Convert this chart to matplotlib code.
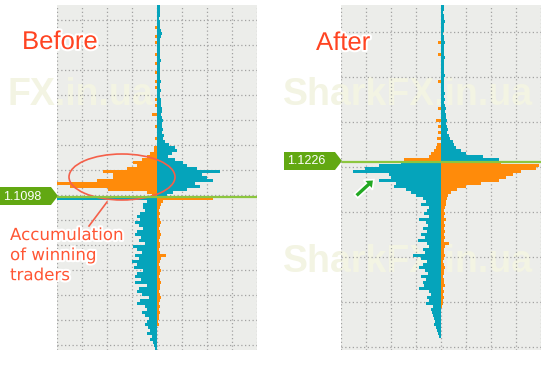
import numpy as np
import matplotlib
matplotlib.use('Agg')
import matplotlib.pyplot as plt
from matplotlib.patches import Ellipse, Polygon, FancyArrow
import matplotlib.patheffects as pe

# bar lengths (px) per 3px price row
# "Before" panel: rows above the price line (top -> line), rows below (line -> bottom)
before_up_orange = [0, 0, 0, 0, 0, 0, 0, 2, 0, 0, 2, 0, 2, 0, 0, 0, 2, 0, 0, 2,
                    0, 0, 2, 0, 0, 2, 0, 2, 0, 0, 0, 2, 0, 2, 0, 0, 5, 0, 0, 0,
                    2, 0, 0, 0, 2, 0, 0, 3, 3, 7, 10, 15, 24, 20, 30, 54, 44, 44, 60, 100,
                    87, 49, 10, 5]
before_up_teal = [3, 3, 3, 3, 2, 3, 3, 3, 4, 5, 4, 3, 3, 3, 3,
                  3, 3, 3, 4, 3, 3, 3, 3, 3, 3, 4, 3, 3, 4, 3,
                  3, 4, 4, 4, 5, 5, 4, 5, 6, 5,
                  5, 6, 5, 7, 6, 8, 12, 18, 20, 15,
                  11, 18, 26, 30, 40, 63, 45, 50, 56, 38, 43, 30, 16, 10]
before_low_teal = [100, 10, 14, 14, 12, 17, 20, 17, 22, 18, 14, 20, 22, 16, 18, 12, 24,
                   20, 15, 22, 18, 25, 20, 23, 14, 20, 22, 16, 22, 10, 18, 20, 15, 8,
                   17, 20, 12, 10, 15, 12, 8, 10, 12, 9, 7, 10, 5, 7, 4, 3, 2]
before_low_orange = [56, 6, 4, 3, 2, 3, 2, 3, 4, 3, 2, 3, 4, 3, 2, 3, 3, 2, 3, 9, 4,
                     3, 2, 3, 4, 3, 2, 3, 4, 3, 3, 2, 3, 4, 3, 2, 3, 2, 3, 2, 2,
                     1, 2, 0, 0, 0, 0, 0, 0, 0, 0]

# "After" panel
after_up_orange = [0, 0, 0, 0, 0, 0, 0, 0, 0, 0, 0, 0, 3, 0, 0, 0, 3, 0, 0, 0,
                   0, 0, 0, 0, 0, 3, 0, 0, 0, 0, 0, 0, 0, 0, 3, 0, 0, 0, 5, 0,
                   3, 0, 3, 0, 4, 0, 4, 5, 7, 10, 12, 37]
after_up_teal = [3, 3, 2, 3, 3, 4, 3, 3, 3, 2, 3, 3, 4, 3, 3, 3, 3, 4, 3, 3,
                 3, 3, 3, 4, 3, 3, 3, 3, 3, 4, 3, 4, 3, 4, 5, 4, 5, 5, 6, 5,
                 6, 7, 6, 8, 9, 12, 13, 15, 20, 25, 42, 58]
after_low_teal = [40, 62, 76, 88, 52, 50, 62, 45, 47, 35, 30, 25, 18, 15, 20, 12, 14,
                  17, 12, 22, 15, 13, 18, 14, 20, 16, 23, 14, 12, 18, 16, 28, 20, 14,
                  18, 22, 16, 13, 20, 15, 18, 17, 22, 12, 10, 14, 12, 15, 8, 10, 9,
                  8, 7, 6, 7, 5, 4, 3, 2, 0, 0, 0, 0]
after_low_orange = [60, 98, 95, 80, 72, 65, 58, 40, 25, 16, 10, 7, 6, 5, 5, 4, 3, 4,
                    3, 5, 3, 4, 3, 4, 3, 4, 3, 8, 4, 3, 3, 4, 3, 2, 3, 4, 3, 3, 2,
                    3, 3, 4, 2, 3, 2, 3, 2, 2, 1, 0, 0, 0, 0, 0, 0, 0, 0, 0, 0, 0,
                    0, 0, 0]

price_before = "1.1098"
price_after = "1.1226"

ORANGE = '#ff8b0a'
TEAL = '#05a4bb'
BG = '#ecedea'
GRID = '#a2a2a2'
GREEN_LINE = '#8cc63f'
GREEN_TAG = '#62a812'
RED = '#ff4422'

W, H = 553, 370
fig = plt.figure(figsize=(5.53, 3.70), dpi=100)


def px_axes(x0, y0, x1, y1, **kw):
    return fig.add_axes([x0 / W, 1 - y1 / H, (x1 - x0) / W, (y1 - y0) / H], **kw)


ov = px_axes(0, 0, W, H, zorder=5)
ov.set_xlim(0, W)
ov.set_ylim(H, 0)
ov.axis('off')
ov.patch.set_alpha(0)


def panel(x0, x1, line_y, hgrid, up_or, up_te, lo_te, lo_or):
    ax = px_axes(x0, 5, x1, 350)
    ax.set_facecolor(BG)
    ax.set_xlim(-100, 100)
    ax.set_ylim(350, 5)
    ax.set_xticks(np.arange(-100, 101, 25))
    ax.set_yticks(hgrid)
    ax.grid(True, color=GRID, linestyle=(0, (1, 2)), linewidth=0.9)
    ax.set_axisbelow(True)
    ax.tick_params(length=0, labelbottom=False, labelleft=False)
    for s in ax.spines.values():
        s.set_visible(False)

    n = len(up_or)
    yu = line_y - 3 * (n - np.arange(n)) + 1.5
    ax.barh(yu, -np.array(up_or), height=3.05, color=ORANGE, linewidth=0, zorder=2)
    ax.barh(yu, up_te, height=3.05, color=TEAL, linewidth=0, zorder=2)
    m = len(lo_te)
    yl = line_y + 3 * np.arange(m) + 1.5
    ax.barh(yl, -np.array(lo_te), height=3.05, color=TEAL, linewidth=0, zorder=2)
    ax.barh(yl, lo_or, height=3.05, color=ORANGE, linewidth=0, zorder=2)
    return ax


axL = panel(57, 257, 197, np.arange(20, 350, 25),
            before_up_orange, before_up_teal, before_low_teal, before_low_orange)
axR = panel(341, 541, 161, np.arange(32, 350, 45),
            after_up_orange, after_up_teal, after_low_teal, after_low_orange)

# very faint watermarks
wm = dict(fontsize=27, fontweight='bold', family='Liberation Sans', color='#f3f4e3',
          transform=ov.transData, clip_on=False, zorder=0.5, va='center')
axL.text(7, 95, 'FX.in.ua', ha='left', **wm)
axR.text(283, 95, 'SharkFX.in.ua', ha='left', **wm)
axR.text(283, 262, 'SharkFX.in.ua', ha='left', **wm)

# price lines and tags
ov.plot([57, 257], [197, 197], color=GREEN_LINE, lw=1.6, solid_capstyle='butt')
ov.plot([342, 541], [162, 162], color=GREEN_LINE, lw=1.6, solid_capstyle='butt')
ov.add_patch(Polygon([(0, 187), (51, 187), (58, 196), (51, 205), (0, 205)],
                     closed=True, color=GREEN_TAG, lw=0))
ov.add_patch(Polygon([(284, 152), (335, 152), (342, 161), (335, 170), (284, 170)],
                     closed=True, color=GREEN_TAG, lw=0))
ov.text(3, 196.5, price_before, color='white', fontsize=9, family='Liberation Sans',
        va='center', ha='left')
ov.text(287, 161.5, price_after, color='white', fontsize=9, family='Liberation Sans',
        va='center', ha='left')

# titles
halo = [pe.withStroke(linewidth=3, foreground='white')]
ov.text(22, 42, 'Before', color=RED, fontsize=18.5, family='Liberation Sans',
        va='center', ha='left', path_effects=halo)
ov.text(316, 43, 'After', color=RED, fontsize=18.5, family='Liberation Sans',
        va='center', ha='left', path_effects=halo)

# annotation on the left
ov.add_patch(Ellipse((122, 177), 106, 46, fill=False, edgecolor='#f5604a', lw=1.2))
ov.plot([107, 89], [202, 226], color='#f5604a', lw=1.2)
ov.text(10, 226, 'Accumulation\nof winning\ntraders', color='#ff5533', fontsize=12,
        va='top', ha='left', linespacing=1.15, path_effects=halo)

# green arrow on the right
ov.add_patch(FancyArrow(356, 196, 12, -11, width=5, head_width=13, head_length=8,
                        length_includes_head=False, color='#22a822', ec='white', lw=1.2))

fig.savefig('out.png', dpi=100, facecolor='white')
